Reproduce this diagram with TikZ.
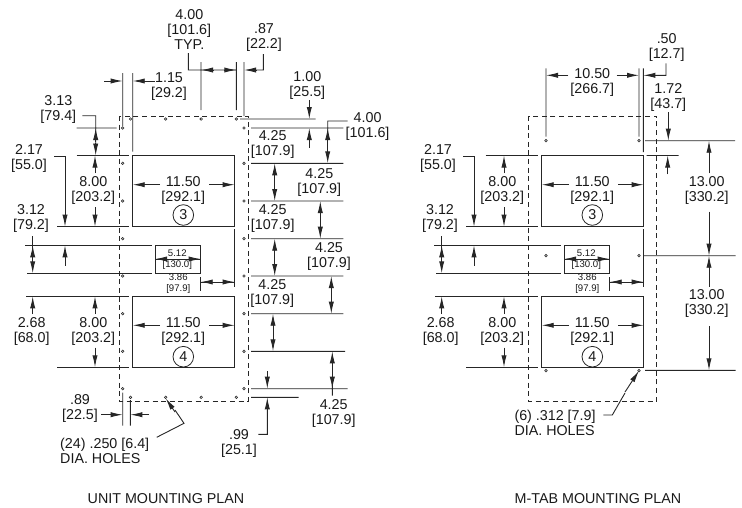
\documentclass[tikz,border=0pt]{standalone}
\usepackage{fontspec}
\setmainfont{Liberation Sans}
\usetikzlibrary{arrows.meta}
\tikzset{
    every node/.style={align=center,inner sep=0pt,font=\fontsize{14.3}{15}\selectfont,text=black!90},
    smalltext/.style={font=\fontsize{9.6}{11.5}\selectfont},
    outline/.style={line width=0.9pt,draw=black!85},
    dimline/.style={line width=0.9pt,draw=black!85},
    dimarrow/.style={dimline,-{Latex[length=12pt,width=5.2pt]}},
    cutout/.style={line width=0.8pt,draw=black!85,dash pattern=on 5pt off 3.6pt},
    hole/.style={line width=0.6pt,draw=black!85,fill=white}
}
\newcommand\dimtxt[2]{#1\\{[#2]}}
\begin{document}
\begin{tikzpicture}[x=1pt,y=-1pt]
\useasboundingbox (0,0) rectangle (742,507);
\foreach \dx/\pname in {0/unit,409/mtab} {
\begin{scope}[xshift=\dx pt]
\draw
    [outline]
    (132.7,155.5) rectangle (234.7,226.7)
    (132.7,296.3) rectangle (234.7,367.3)
    (155,245.3) rectangle (200.7,273.3);
\path
    (183.3,190.5) node (width3\pname) {\dimtxt{11.50}{292.1}}
    (183.3,331.5) node (width4\pname) {\dimtxt{11.50}{292.1}}
    (183.3,215) node [draw=black!85,line width=0.8pt,circle,minimum size=20.6pt] (num3\pname) {3}
    (183.3,356.7) node [draw=black!85,line width=0.8pt,circle,minimum size=20.6pt] (num4\pname) {4}
    (93.3,190.5) node (high3\pname) {\dimtxt{8.00}{203.2}}
    (93.3,331.5) node (high4\pname) {\dimtxt{8.00}{203.2}}
    (29,158.5) node (t217\pname) {\dimtxt{2.17}{55.0}}
    (31,218.5) node (t312\pname) {\dimtxt{3.12}{79.2}}
    (31.7,331.5) node (t268\pname) {\dimtxt{2.68}{68.0}}
    (177.3,259.5) node [smalltext] (t512\pname) {\dimtxt{5.12}{130.0}}
    (178.3,283.7) node [smalltext] (t386\pname) {\dimtxt{3.86}{97.9}};
\draw
    [dimline]
    (76.7,155.5) -- (129,155.5)
    (57.3,226.7) -- (129,226.7)
    (25,245.3) -- (151.7,245.3)
    (27,273.3) -- (151.7,273.3)
    (26,296.3) -- (129,296.3)
    (57.3,367.3) -- (129,367.3)
    (234.7,229) -- (234.7,286.7)
    (200.7,277) -- (200.7,291)
    (200.7,282) -- (234.7,282)
    (155,259) -- (200.7,259)
    (54,156) -- (65,156) -- (65,215)
    (32.7,236) -- (32.7,262);
\draw [dimarrow] (160,184.7) -- (132.7,184.7);
\draw [dimarrow] (209,184.7) -- (234.7,184.7);
\draw [dimarrow] (160,325.3) -- (132.7,325.3);
\draw [dimarrow] (209,325.3) -- (234.7,325.3);
\draw [dimarrow] (95,173) -- (95,155.5);
\draw [dimarrow] (95,207.3) -- (95,226.7);
\draw [dimarrow] (95,314) -- (95,296.3);
\draw [dimarrow] (95,347.7) -- (95,367.3);
\draw [dimarrow] (65,214) -- (65,226.7);
\draw [dimarrow] (32.7,260) -- (32.7,245.3);
\draw [dimarrow] (32.7,261) -- (32.7,273.3);
\draw [dimarrow] (65,265.7) -- (65,245.3);
\draw [dimarrow] (32.7,314) -- (32.7,296.3);
\draw [dimarrow] (167,259) -- (155,259);
\draw [dimarrow] (188.7,259) -- (200.7,259);
\draw [dimarrow] (213,282) -- (200.7,282);
\draw [dimarrow] (222.7,282) -- (234.7,282);
\end{scope}
}
\draw
    [cutout]
    (119.3,116) rectangle (248,401)
    (528.3,116) rectangle (656.7,401);
\foreach \hy in {128,163.3,201,238.7,276,313.7,351.3,388.7} {
    \draw [hole] (122.7,\hy) circle (1.3);
    \draw [hole] (244,\hy) circle (1.3);
}
\foreach \hx in {130.5,165.7,201.2,236.3} {
    \draw [hole] (\hx,119) circle (1.3);
    \draw [hole] (\hx,397.3) circle (1.3);
}
\foreach \hx in {546,639} {
    \foreach \hy in {140.7,255.7,370.7} {
        \draw [hole] (\hx,\hy) circle (1.3);
    }
}
\path
    (189.3,30) node (typ) {4.00\\{[101.6]}\\TYP.}
    (264,37) node (t087) {\dimtxt{.87}{22.2}}
    (169,87) node (t115) {\dimtxt{1.15}{29.2}}
    (58.3,109) node (t313) {\dimtxt{3.13}{79.4}}
    (307.3,85.5) node (t100) {\dimtxt{1.00}{25.5}}
    (367.6,126.5) node (t400) {\dimtxt{4.00}{101.6}}
    (272.7,144.5) node (pitch1) {\dimtxt{4.25}{107.9}}
    (319.3,182) node (pitch2) {\dimtxt{4.25}{107.9}}
    (272.7,218.5) node (pitch3) {\dimtxt{4.25}{107.9}}
    (329,256) node (pitch4) {\dimtxt{4.25}{107.9}}
    (272.3,293.5) node (pitch5) {\dimtxt{4.25}{107.9}}
    (333.7,413.5) node (pitch6) {\dimtxt{4.25}{107.9}}
    (239,443.5) node (t099) {\dimtxt{.99}{25.1}}
    (80,408.7) node (t089) {\dimtxt{.89}{22.5}}
    (60,450.5) node [anchor=west,align=left] (holes24) {(24) .250 [6.4]\\DIA. HOLES}
    (166,498.5) node (unitplan) {UNIT MOUNTING PLAN}
    (598,498.5) node (mtabplan) {M-TAB MOUNTING PLAN}
    (592.3,82) node (t1050) {\dimtxt{10.50}{266.7}}
    (666.7,47) node (t050) {\dimtxt{.50}{12.7}}
    (668.3,97) node (t172) {\dimtxt{1.72}{43.7}}
    (706.7,190) node (span1) {\dimtxt{13.00}{330.2}}
    (706.7,303.5) node (span2) {\dimtxt{13.00}{330.2}}
    (514.3,422.5) node [anchor=west,align=left] (holes6) {(6) .312 [7.9]\\DIA. HOLES};
\draw
    [dimline]
    (201,62) -- (201,110)
    (236.3,62) -- (236.3,110)
    (244,62) -- (244,116)
    (188.3,53) -- (188.3,70) -- (236.3,70)
    (263.3,54) -- (263.3,70) -- (250,70)
    (122.7,73) -- (122.7,126)
    (132.7,73) -- (132.7,151.7)
    (82.3,115.7) -- (95.7,115.7) -- (95.7,150)
    (76.7,128) -- (116.7,128)
    (240,119) -- (315.7,119)
    (251,128) -- (343.3,128)
    (251,163.3) -- (343.3,163.3)
    (251,201) -- (343.3,201)
    (251,238.7) -- (343.3,238.7)
    (251,276) -- (343.3,276)
    (251,313.7) -- (343.3,313.7)
    (251,351.3) -- (345,351.3)
    (251,388.7) -- (347.7,388.7)
    (251,397.3) -- (298.7,397.3)
    (347.7,121) -- (327.7,121) -- (327.7,140)
    (258.3,434.3) -- (267.3,434.3) -- (267.3,410)
    (332.3,385) -- (332.3,395.7)
    (122.7,392.7) -- (122.7,425.7)
    (130.3,400) -- (130.3,425.7)
    (156.7,437.3) -- (184,423.3) -- (175,410)
    (546,68.3) -- (546,136.7)
    (639,68.3) -- (639,136.7)
    (643.3,68.3) -- (643.3,152)
    (666,63.3) -- (666,75.3) -- (650,75.3)
    (645,140.7) -- (735,140.7)
    (646.7,155.5) -- (678.7,155.5)
    (644,255.7) -- (735.7,255.7)
    (645,370.3) -- (735.7,370.3)
    (603.3,415) -- (612.3,415) -- (625,393);
\draw [dimarrow] (155,81) -- (132.7,81);
\draw [dimarrow] (104,81) -- (122.7,81);
\draw [dimarrow] (213,70) -- (201,70);
\draw [dimarrow] (224,70) -- (236.3,70);
\draw [dimarrow] (256,70) -- (244,70);
\draw [dimarrow] (95.7,142) -- (95.7,128);
\draw [dimarrow] (95.7,143) -- (95.7,155.5);
\draw [dimarrow] (309.3,100) -- (309.3,119);
\draw [dimarrow] (309.3,147.7) -- (309.3,128);
\draw [dimarrow] (327.7,141) -- (327.7,128);
\draw [dimarrow] (327.7,140) -- (327.7,163.3);
\draw [dimarrow] (274.7,182) -- (274.7,163.3);
\draw [dimarrow] (274.7,182) -- (274.7,201);
\draw [dimarrow] (320.3,220) -- (320.3,201);
\draw [dimarrow] (320.3,220) -- (320.3,238.7);
\draw [dimarrow] (274.7,257) -- (274.7,238.7);
\draw [dimarrow] (274.7,257) -- (274.7,276);
\draw [dimarrow] (331.3,295) -- (331.3,276);
\draw [dimarrow] (331.3,295) -- (331.3,313.7);
\draw [dimarrow] (273,332) -- (273,313.7);
\draw [dimarrow] (273,332) -- (273,351.3);
\draw [dimarrow] (332.3,370) -- (332.3,351.3);
\draw [dimarrow] (332.3,370) -- (332.3,388.7);
\draw [dimarrow] (267.3,371) -- (267.3,388.7);
\draw [dimarrow] (267.3,415) -- (267.3,397.3);
\draw [dimarrow] (101,414.7) -- (122.7,414.7);
\draw [dimarrow] (149,414.7) -- (130.3,414.7);
\draw [dimarrow] (175,412) -- (165.7,398.3);
\draw [dimarrow] (568.3,75.3) -- (546,75.3);
\draw [dimarrow] (616.7,75.3) -- (639,75.3);
\draw [dimarrow] (655,75.3) -- (643.3,75.3);
\draw [dimarrow] (668.3,112.3) -- (668.3,140.7);
\draw [dimarrow] (667.7,174.3) -- (667.7,155.5);
\draw [dimarrow] (709,173.3) -- (709,140.7);
\draw [dimarrow] (709,211.7) -- (709,255.7);
\draw [dimarrow] (709,286.7) -- (709,255.7);
\draw [dimarrow] (709,326) -- (709,370.3);
\draw [dimarrow] (625,392) -- (639,370.7);
\end{tikzpicture}
\end{document}
